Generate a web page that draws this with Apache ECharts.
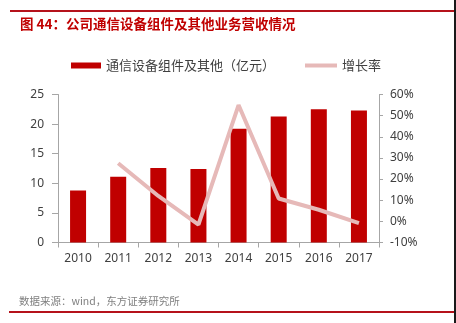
<!DOCTYPE html>
<html>
<head>
<meta charset="utf-8">
<script src="https://cdn.jsdelivr.net/npm/echarts@6/dist/echarts.min.js"></script>
<style>
html,body{margin:0;padding:0;background:#fff;}
#c{width:456px;height:323px;}
</style>
</head>
<body>
<div id="c"></div>
<script>
var categories = ['2010','2011','2012','2013','2014','2015','2016','2017'];
var revenue = [8.8, 11.1, 12.6, 12.4, 19.2, 21.3, 22.5, 22.3];
var growth = [null, 27.5, 12, -1.5, 55, 10.8, 5.5, -0.8];
var barName = '通信设备组件及其他（亿元）';
var lineName = '增长率';
var titleText = '图 44：公司通信设备组件及其他业务营收情况';
var sourceText = '数据来源：wind，东方证券研究所';

var chart = echarts.init(document.getElementById('c'), null, {renderer:'canvas'});
var axisColor = '#a6a6a6';
var labelColor = '#404040';
var numFont = '"Noto Sans", sans-serif';
var cjkFont = '"Noto Sans CJK SC", sans-serif';
chart.setOption({
  animation: false,
  backgroundColor: '#ffffff',
  graphic: [
    {type:'rect', shape:{x:10,y:10,width:444,height:2}, style:{fill:'#b5121b'}},
    {type:'text', x:20, y:24, style:{text:titleText, font:'bold 13.5px "Noto Sans CJK SC", sans-serif', fill:'#c00000', textVerticalAlign:'middle'}},
    {type:'text', x:19, y:301, style:{text:sourceText, font:'10.5px "Noto Sans CJK SC", sans-serif', fill:'#808080', textVerticalAlign:'middle'}},
    {type:'rect', shape:{x:9,y:311,width:445,height:2}, style:{fill:'#b5121b'}},
    {type:'rect', shape:{x:454,y:0,width:2,height:323}, style:{fill:'#1a1a1a'}}
  ],
  legend: [
    {data:[{name:barName, icon:'rect'}], left:71, top:59, padding:0, itemWidth:30, itemHeight:6,
     textStyle:{fontFamily:cjkFont, fontSize:13, color:labelColor}},
    {data:[{name:lineName, icon:'rect'}], left:305, top:59, padding:0, itemWidth:32, itemHeight:4,
     textStyle:{fontFamily:cjkFont, fontSize:13, color:labelColor}}
  ],
  grid: {left:58, right:77, top:94.5, bottom:80.5, containLabel:false},
  xAxis: {
    type:'category', data:categories, boundaryGap:true,
    axisLine:{lineStyle:{color:axisColor, width:1}},
    axisTick:{show:true, length:5, lineStyle:{color:axisColor}},
    axisLabel:{fontFamily:numFont, fontSize:12, color:labelColor, margin:10}
  },
  yAxis: [
    {type:'value', min:0, max:25, interval:5,
     axisLine:{show:true, lineStyle:{color:axisColor}},
     axisTick:{show:true, length:6, lineStyle:{color:axisColor}},
     splitLine:{show:false},
     axisLabel:{fontFamily:numFont, fontSize:12, color:labelColor, margin:14}},
    {type:'value', min:-10, max:60, interval:10, position:'right',
     axisLine:{show:true, lineStyle:{color:axisColor}},
     axisTick:{show:true, length:4, lineStyle:{color:axisColor}},
     splitLine:{show:false},
     axisLabel:{fontFamily:numFont, fontSize:12, color:labelColor, margin:11, formatter:'{value}%'}}
  ],
  series: [
    {name:barName, type:'bar', data:revenue, barWidth:16, itemStyle:{color:'#c00000'}, yAxisIndex:0},
    {name:lineName, type:'line', data:growth, yAxisIndex:1, showSymbol:false, symbol:'none',
     lineStyle:{color:'#e6b9b8', width:4}, itemStyle:{color:'#e6b9b8'}}
  ]
});
</script>
</body>
</html>
